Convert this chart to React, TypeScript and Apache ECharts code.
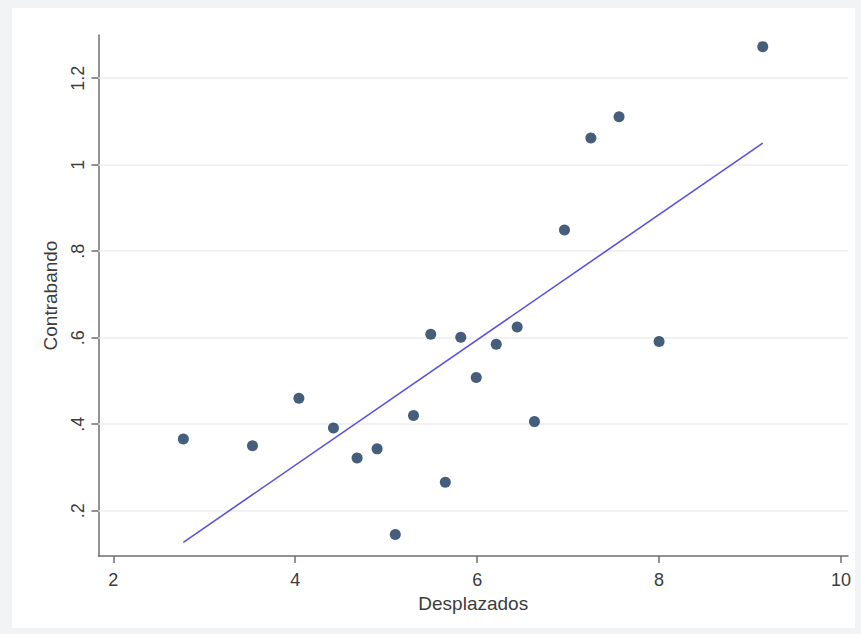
import React, { useEffect, useRef } from "react";
import * as echarts from "echarts";

const desplazados = [2.77, 3.53, 4.04, 4.42, 4.68, 4.9, 5.1, 5.3, 5.49, 5.65, 5.82, 5.99, 6.21, 6.44, 6.63, 6.96, 7.25, 7.56, 8.0, 9.14];
const contrabando = [0.366, 0.35, 0.46, 0.391, 0.322, 0.343, 0.145, 0.42, 0.608, 0.266, 0.601, 0.508, 0.585, 0.625, 0.406, 0.849, 1.062, 1.111, 0.591, 1.273];
const fitX = [2.77, 9.14];
const fitY = [0.127, 1.05];
const xTicks = [2, 4, 6, 8, 10];
const yTicks = [0.2, 0.4, 0.6, 0.8, 1.0, 1.2];

const FONT = "'Liberation Sans', Arial, sans-serif";
const TXT = "#3c3c3c";

function fmtY(v: number): string {
  const s = String(Number(v.toFixed(1)));
  return s.replace(/^0\./, ".");
}

export default function App() {
  const ref = useRef<HTMLDivElement>(null);
  useEffect(() => {
    if (!ref.current) return;
    const chart = echarts.init(ref.current, undefined, { renderer: "svg" });
    chart.setOption({
      animation: false,
      backgroundColor: "#f2f3f4",
      graphic: [
        {
          type: "rect",
          z: -10,
          shape: { x: 12, y: 8, width: 843, height: 620 },
          style: { fill: "#ffffff" },
          silent: true,
        },
      ],
      grid: { left: 98.5, top: 35, right: 13, bottom: 78 },
      xAxis: {
        type: "value",
        min: 1.837,
        max: 10.077,
        name: "Desplazados",
        nameLocation: "middle",
        nameGap: 37,
        nameTextStyle: { fontFamily: FONT, fontSize: 19, color: TXT },
        axisLine: { show: true, onZero: false, lineStyle: { color: "#6e6e6e", width: 1.5 } },
        axisTick: { show: true, length: 7, customValues: xTicks, lineStyle: { color: "#6e6e6e", width: 1.5 } },
        axisLabel: { customValues: xTicks, fontFamily: FONT, fontSize: 18, color: TXT, margin: 15 },
        splitLine: { show: false },
      },
      yAxis: {
        type: "value",
        min: 0.0953,
        max: 1.2999,
        name: "Contrabando",
        nameLocation: "middle",
        nameRotate: 90,
        nameGap: 39,
        nameTextStyle: { fontFamily: FONT, fontSize: 19, color: TXT },
        axisLine: { show: true, onZero: false, lineStyle: { color: "#6e6e6e", width: 1.5 } },
        axisTick: { show: true, length: 7, customValues: yTicks, lineStyle: { color: "#6e6e6e", width: 1.5 } },
        axisLabel: {
          customValues: yTicks,
          rotate: 90,
          fontFamily: FONT,
          fontSize: 18,
          color: TXT,
          margin: 11.5,
          formatter: (v: number) => fmtY(v),
        },
        splitLine: { show: false },
      },
      series: [
        {
          type: "scatter",
          data: desplazados.map((x, i) => [x, contrabando[i]]),
          symbol: "circle",
          symbolSize: 11,
          itemStyle: { color: "#15365a" },
          z: 5,
          markLine: {
            silent: true,
            symbol: ["none", "none"],
            label: { show: false },
            lineStyle: { color: "#ececec", width: 1.5, type: "solid" },
            data: yTicks.map((v) => ({ yAxis: v })),
            z: 1,
          },
        },
        {
          type: "line",
          data: fitX.map((x, i) => [x, fitY[i]]),
          showSymbol: false,
          symbol: "none",
          lineStyle: { color: "#5a52e0", width: 1.6 },
          z: 4,
        },
      ],
    });
    return () => chart.dispose();
  }, []);
  return (
    <div
      ref={ref}
      style={{ position: "fixed", left: 0, top: 0, width: 861, height: 634 }}
    />
  );
}
